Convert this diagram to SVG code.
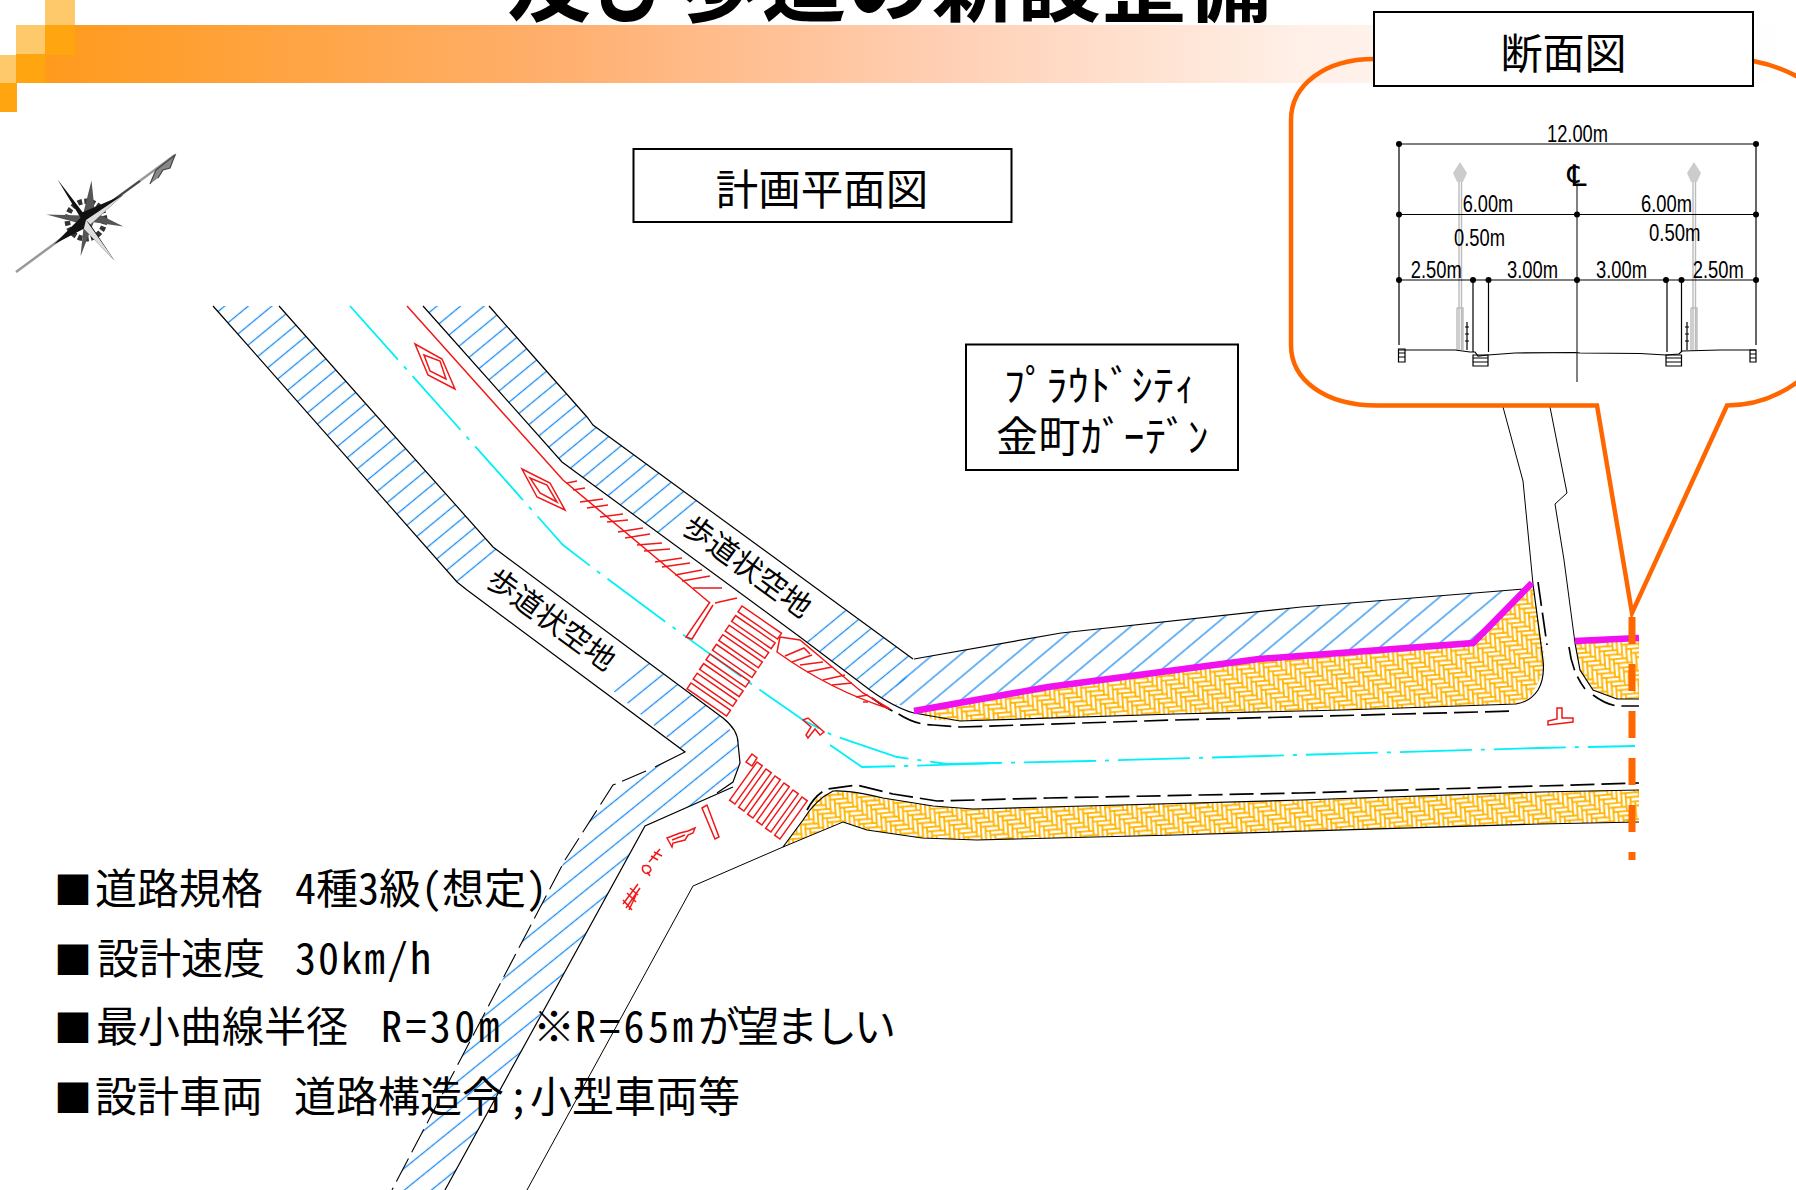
<svg xmlns="http://www.w3.org/2000/svg" xmlns:xlink="http://www.w3.org/1999/xlink" width="1796" height="1190" viewBox="0 0 1796 1190">
<style>
text{font-family:"Noto Sans CJK JP","Liberation Sans",sans-serif;fill:#000}
.hw{font-feature-settings:"hwid" 1}
.dim{font-family:"Liberation Sans",sans-serif;font-size:24px}
.box{fill:#fff;stroke:#000;stroke-width:2}
.bk{fill:none;stroke:#000;stroke-width:1.2}
.th{fill:none;stroke:#000;stroke-width:1}
.da{fill:none;stroke:#000;stroke-width:1.7;stroke-dasharray:24 7}
.da2{fill:none;stroke:#000;stroke-width:1.1;stroke-dasharray:26 7}
.red{fill:none;stroke:#f01818;stroke-width:1.5}
.cy{fill:none;stroke:#00f0f8;stroke-width:1.8;stroke-dasharray:72 9 4 9}
.mg{fill:none;stroke:#f010f0;stroke-width:6.5}
.or{fill:none;stroke:#ff6600;stroke-width:4.5}
.lamp{fill:none;stroke:#bbb;stroke-width:1.4}
.lab{font-size:30px}
.it{font-size:42px}
.hatch{fill:url(#hatch);stroke:none}
.hatch3{fill:url(#hatch3);stroke:none}
.brick{fill:url(#brick);stroke:none}
</style>
<defs>
<linearGradient id="band" gradientUnits="userSpaceOnUse" x1="45" y1="0" x2="1796" y2="0">
<stop offset="0" stop-color="#ff9a1c"/><stop offset="0.3" stop-color="#ffb070"/><stop offset="0.5" stop-color="#ffcdb0"/><stop offset="0.72" stop-color="#fff0e8"/><stop offset="1" stop-color="#fff"/>
</linearGradient>
<pattern id="hatch" patternUnits="userSpaceOnUse" width="15" height="15" patternTransform="translate(213 306) rotate(-39.5)">
<line x1="0" y1="7.5" x2="15" y2="7.5" stroke="#1e8cf0" stroke-width="1.3"/>
</pattern>
<pattern id="hatch3" patternUnits="userSpaceOnUse" width="17" height="17" patternTransform="translate(560 900) rotate(-39)">
<line x1="0" y1="8.5" x2="17" y2="8.5" stroke="#1e8cf0" stroke-width="1.3"/>
</pattern>
<pattern id="hatch2" patternUnits="userSpaceOnUse" width="17.6" height="17.6" patternTransform="translate(920 700) rotate(-40)">
<line x1="0" y1="8.8" x2="17.6" y2="8.8" stroke="#1e8cf0" stroke-width="1.3"/>
</pattern>
<pattern id="brick" patternUnits="userSpaceOnUse" width="24" height="24" patternTransform="rotate(-5) scale(1.12)">
<rect width="24" height="24" fill="#fff"/>
<g fill="#fff" stroke="#ffb400" stroke-width="1.5">
<rect x="0" y="0" width="12" height="4"/><rect x="4" y="4" width="12" height="4"/><rect x="8" y="8" width="12" height="4"/><rect x="12" y="12" width="12" height="4"/><rect x="16" y="16" width="12" height="4"/><rect x="-8" y="16" width="12" height="4"/><rect x="20" y="20" width="12" height="4"/><rect x="-4" y="20" width="12" height="4"/>
<rect x="12" y="-8" width="4" height="12"/><rect x="12" y="16" width="4" height="12"/><rect x="16" y="-4" width="4" height="12"/><rect x="16" y="20" width="4" height="12"/><rect x="20" y="0" width="4" height="12"/><rect x="0" y="4" width="4" height="12"/><rect x="4" y="8" width="4" height="12"/><rect x="8" y="12" width="4" height="12"/>
</g>
</pattern>
<rect id="cw1" width="48" height="7" class="red"/>
<rect id="cw2" x="0" y="-6.5" width="47" height="6.5" class="red"/>
</defs>

<g id="header">
<rect x="45" y="25" width="1751" height="58" fill="url(#band)"/>
<rect x="45" y="0" width="30" height="25" fill="#fdc96b"/>
<rect x="16" y="25" width="29" height="29" fill="#fdc96b"/>
<rect x="45" y="25" width="30" height="30" fill="#ffa510"/>
<rect x="0" y="55" width="16" height="28" fill="#fdc96b"/>
<rect x="16" y="54" width="29" height="29" fill="#ffa510"/>
<rect x="0" y="83" width="17" height="29" fill="#ffa510"/>
</g>
<text id="title" x="507" y="15" font-size="84" font-weight="700" letter-spacing="1">及び歩道の新設整備</text>

<g id="compass">
<path d="M16,272 L175,155" stroke="#999" stroke-width="2.500" fill="none"/>
<path d="M70,231 L140,181" stroke="#444" stroke-width="2" fill="none"/>
<path d="M150,184 L156,170 L175,155 L170,168 L163,170 L158,178" fill="#888" stroke="#444" stroke-width="1.200"/>
<g transform="translate(86 220) scale(1.1) translate(-86 -220)">
<circle cx="86" cy="220" r="17" fill="none" stroke="#333" stroke-width="5" stroke-dasharray="4 2"/>
<path d="M91,184 L94,213 L120,226 L93,222 L81,253 L84,224 L50,215 L83,216Z" fill="#555"/>
<path d="M60,183 L83,213 L120,197 L90,224 L112,257 L84,228 L57,242 L81,218Z" fill="#111"/>
<path d="M86,220 L120,197 L90,224Z M86,220 L112,257 L84,228Z" fill="#ddd"/>
</g>
</g>

<g id="hatched-areas">
<polygon class="hatch" points="213,306 279,306 493,547 507,557 468,589 457,582"/>
<polygon class="hatch" points="423,306 489,306 587,417 593,425 698,502 660,534 562,462"/>
<polygon class="hatch" points="838,605 913,659 896,706 880,697 800,637"/>
<polygon style="fill:url(#hatch2)" points="888,700 913,659 1061,633 1301,607 1524,589 1530,588 1473,643 1259,659 1048,687 914,711"/>
<polygon class="hatch3" points="647,662 723,718 738,743 738,765 733,787 645,826 445,1190 392,1190 565,860 613,785 686,753 612,690"/>
</g>

<g id="brick-areas">
<polygon class="brick" points="914,711 1048,687 1259,659 1473,643 1533,587 1545,660 1543,673 1530,698 1516,704 1343,710 1175,714 960,721 935,720"/>
<polygon class="brick" points="1575,641 1639,638 1639,699 1617,699 1593,690 1580,670"/>
<polygon class="brick" points="783,847 803,820 817,798 833,791 853,792 883,798 933,806 973,809 1048,807 1301,800 1540,792 1639,790 1639,822 1540,824 1175,835 977,840 922,838 867,830 843,822"/>
</g>

<g id="road-lines">
<path class="bk" d="M213,306 L457,582 L467,590 L685,752 L655,767"/>
<path class="bk" d="M279,306 L493,547 L723,718 C733,726 738,735 738,743 L740,763 L733,782 L717,793"/>
<path class="bk" d="M733,787 L645,826 L445,1190"/>
<path class="th" d="M843,822 L783,847 L693,886 L527,1190"/>
<path class="da2" d="M646,771 L613,785 L565,860 L392,1190"/>
<path class="bk" d="M423,306 L562,462 L800,637 L870,690 Q895,708 914,713 L960,721 L1175,714 L1343,710 L1516,704 Q1530,702 1538,690 Q1545,678 1543,660 L1533,584"/>
<path class="bk" d="M914,659 L1061,633 L1301,607 L1524,589"/>
<path class="bk" d="M489,306 L587,417 L593,425 L913,659"/>
<path class="th" d="M1503,407 L1523,481 L1533,584"/>
<path class="th" d="M1550,407 L1567,493 L1555,504 L1564,560 L1575,643"/>
<path class="bk" stroke-width="1.400" d="M1575,643 L1580,670 L1593,690 L1617,699 L1639,699"/>
<path class="bk" stroke-width="1.600" d="M783,847 L803,820 Q815,800 833,791 Q850,790 883,798 L933,806 L973,809 L1048,807 L1301,800 L1540,792 L1639,790"/>
<path class="bk" stroke-width="1.600" d="M843,822 L867,830 L922,838 L977,840 L1175,835 L1540,824 L1639,822"/>
<path class="da" d="M872,698 Q885,708 897,713 Q915,725 933,725 L960,727 L1175,720 L1515,711"/>
<path class="da" d="M807,810 Q815,795 827,789 L857,785 L893,794 L937,801 L1048,798 L1301,793 L1540,786 L1639,783"/>
<path class="da" d="M1538,582 L1547,645"/>
<path class="da" d="M1569,647 Q1572,672 1585,689 M1593,695 Q1605,704 1617,706 L1639,706"/>
</g>

<g id="center-line">
<path class="cy" d="M350,306 L458,427 L563,545 L593,568 L667,623 L750,683 L803,720 L832,735 L897,757 L947,764 L994,763 L1090,761 L1540,748 L1635,746"/>
<path class="cy" d="M830,745 L862,767 L905,766 L1000,763"/>
</g>

<g id="markings">
<path class="red" d="M407,306 L563,480 L710,603"/>
<polygon class="red" points="415,344 442,359 455,389 428,375"/>
<polygon class="red" points="424,355 440,361 446,379 430,371"/>
<polygon class="red" points="522,469 550,483 565,510 537,497"/>
<polygon class="red" points="530,478 547,485 557,502 540,493"/>
<path class="red" d="M567,483 L577,481 M573,490 L585,488 M580,502 L603,499 M587,508 L608,505 M600,517 L623,514 M607,522 L628,520 M618,532 L643,528 M625,538 L650,534 M637,545 L662,543 M644,551 L670,549 M655,562 L682,558 M662,567 L690,563 M675,575 L702,570 M682,581 L710,576 M693,588 L722,588 M715,603 L737,598"/>
<path class="red" d="M710,602 L686,637 L692,639 L713,605"/>
<path class="red" d="M780,637 L800,640 L863,693 L890,709 Q830,690 777,652 L780,637"/>
<path class="red" d="M785,656 L804,648 L810,654 M792,662 L812,655 M800,665 L823,662 M807,672 L832,667 M823,680 L845,675 M832,685 L852,683 M856,697 L868,695 M863,702 L868,702"/>
<g>
<use xlink:href="#cw1" href="#cw1" transform="translate(742 606) rotate(34.6)"/>
<use xlink:href="#cw1" href="#cw1" transform="translate(735.6 615.6) rotate(34.6)"/>
<use xlink:href="#cw1" href="#cw1" transform="translate(729.2 625.2) rotate(34.6)"/>
<use xlink:href="#cw1" href="#cw1" transform="translate(722.8 634.8) rotate(34.6)"/>
<use xlink:href="#cw1" href="#cw1" transform="translate(716.4 644.4) rotate(34.6)"/>
<use xlink:href="#cw1" href="#cw1" transform="translate(710 654) rotate(34.6)"/>
<use xlink:href="#cw1" href="#cw1" transform="translate(703.6 663.6) rotate(34.6)"/>
<use xlink:href="#cw1" href="#cw1" transform="translate(697.2 673.2) rotate(34.6)"/>
<use xlink:href="#cw1" href="#cw1" transform="translate(691 683) rotate(34.6)"/>
</g>
<g>
<polygon class="red" points="752,754 757,758 752,766 746,762"/>
<use xlink:href="#cw2" href="#cw2" transform="translate(757 762) rotate(125.6)"/>
<use xlink:href="#cw2" href="#cw2" transform="translate(766 769) rotate(125.6)"/>
<use xlink:href="#cw2" href="#cw2" transform="translate(775 776) rotate(125.6)"/>
<use xlink:href="#cw2" href="#cw2" transform="translate(784 783) rotate(125.6)"/>
<use xlink:href="#cw2" href="#cw2" transform="translate(793 790) rotate(125.6)"/>
<use xlink:href="#cw2" href="#cw2" transform="translate(802 797) rotate(125.6)"/>
</g>
<polygon class="red" points="803,720 808,718 824,732 820,735 815,729 808,738 806,735 811,727"/>
<polygon class="red" points="1548,721 1557,719 1557,708 1562,708 1562,718 1573,718 1573,722 1548,725"/>
<polygon class="red" points="702,808 707,805 719,837 715,839"/>
<path class="red" d="M667,838 L680,833 L688,831 L695,828 L693,833 L688,835 L685,840 L673,843 L672,847Z M672,840 L685,835"/>
<path class="red" stroke-width="2" d="M649,862 L660,849 M654,852 L662,856 M651,856 L658,860 M643,866 Q650,864 651,870 Q648,875 645,873 Q641,870 643,866Z M647,872 L650,876"/>
<path class="red" stroke-width="2" d="M623,904 L638,884 M626,908 L640,888 M629,910 L636,895 M623,900 L632,910 M627,893 L636,902 M630,888 L638,895"/>
</g>

<g id="boundary">
<path class="mg" d="M914,711 L1048,687 L1259,659 L1473,643 L1532,583"/>
<path class="mg" d="M1575,641 L1639,638"/>
</g>

<g id="labels">
<text class="lab" transform="translate(747 567) rotate(36)" text-anchor="middle" y="10">歩道状空地</text>
<text class="lab" transform="translate(551 620) rotate(36)" text-anchor="middle" y="10">歩道状空地</text>
</g>

<g id="box-plan">
<rect class="box" x="633.5" y="149" width="378" height="73"/>
<text x="822" y="205" font-size="42.5" text-anchor="middle">計画平面図</text>
</g>
<g id="box-name">
<rect class="box" x="966" y="344.500" width="272" height="125.500"/>
<text x="1004" y="401" font-size="42" class="hw" letter-spacing="0.4">ﾌﾟﾗｳﾄﾞｼﾃｨ</text>
<text x="996" y="452" font-size="42" class="hw" letter-spacing="0.5">金町ｶﾞｰﾃﾞﾝ</text>
</g>

<g id="callout">
<path class="or" d="M1374,59 C1325,59 1291,85 1291,120 L1291,345 C1291,380 1325,405.500 1377,405.500 L1597,405.500 L1632,613 L1727,405.500 C1755,405.500 1778,396 1796,383 C1822,365 1840,350 1840,330 L1840,130 C1840,100 1800,70 1753,61" fill="#fff"/>
<path class="or" style="stroke-width:7;stroke-dasharray:27 20" d="M1632,617 L1632,860"/>
<rect class="box" x="1374" y="12" width="379" height="74"/>
<text x="1563.5" y="69" font-size="42" text-anchor="middle">断面図</text>
</g>

<g id="section">
<g class="lamp">
<path d="M1459,180 V350 M1461.500,180 V350 M1457,308 H1463 V350 M1457,308 V350"/>
<path d="M1693,180 V350 M1695.500,180 V350 M1691,308 H1697 V350 M1691,308 V350"/>
</g>
<path d="M1460,162 L1467,173 L1463,182 H1457 L1453,173Z M1694,162 L1701,173 L1697,182 H1691 L1687,173Z" fill="#ccc"/>
<path class="bk" d="M1399,144 H1756 M1399,214.500 H1756 M1399,280 H1756 M1399,144 V345 M1756,144 V345 M1473,280 V352 M1488.500,280 V352 M1667,280 V352 M1681.500,280 V352"/>
<path class="th" stroke="#555" d="M1577,185 V382"/>
<g fill="#000">
<circle cx="1399" cy="144" r="3"/><circle cx="1756" cy="144" r="3"/>
<circle cx="1399" cy="214.500" r="3"/><circle cx="1577" cy="214.500" r="3"/><circle cx="1756" cy="214.500" r="3"/>
<circle cx="1399" cy="280" r="3"/><circle cx="1473" cy="280" r="3"/><circle cx="1488.500" cy="280" r="3"/><circle cx="1577" cy="280" r="3"/><circle cx="1666" cy="280" r="3"/><circle cx="1681.500" cy="280" r="3"/><circle cx="1756" cy="280" r="3"/>
</g>
<path class="bk" stroke-width="1.600" d="M1399,350 L1455,350 L1470,352 L1475,352 L1478,356 L1488,355 L1515,353 L1575,352.500 L1580,353 L1640,353.500 L1666,355 L1679,354 L1682,351 L1720,350 L1756,350"/>
<path class="bk" d="M1398.500,349 H1405 V362 H1398.500Z M1398.500,353 H1405 M1398.500,357 H1405 M1750,350 H1756 V362 H1750Z M1750,354 H1756 M1750,358 H1756 M1473,355 H1488 V366 H1473Z M1473,358 H1488 M1473,362 H1488 M1666,355 H1681.500 V366 H1666Z M1666,358 H1681.500 M1666,362 H1681.500"/>
<path class="bk" d="M1467,322 V350 M1465,327 H1469 M1465,334 H1469 M1465,341 H1469 M1687,322 V350 M1685,327 H1689 M1685,334 H1689 M1685,341 H1689"/>
<text class="dim" x="1547" y="142" textLength="61" lengthAdjust="spacingAndGlyphs">12.00m</text>
<text x="1577" y="186" font-size="30" font-style="italic" text-anchor="middle" style="font-family:'DejaVu Sans','Noto Sans CJK JP',sans-serif">℄</text>
<text class="dim" x="1462.700" y="211.500" textLength="50.500" lengthAdjust="spacingAndGlyphs">6.00m</text>
<text class="dim" x="1641" y="211.500" textLength="51" lengthAdjust="spacingAndGlyphs">6.00m</text>
<text class="dim" x="1454" y="245.500" textLength="51" lengthAdjust="spacingAndGlyphs">0.50m</text>
<text class="dim" x="1649" y="241" textLength="51.500" lengthAdjust="spacingAndGlyphs">0.50m</text>
<text class="dim" x="1410.700" y="277.500" textLength="51" lengthAdjust="spacingAndGlyphs">2.50m</text>
<text class="dim" x="1507" y="277.500" textLength="51" lengthAdjust="spacingAndGlyphs">3.00m</text>
<text class="dim" x="1596" y="277.500" textLength="51" lengthAdjust="spacingAndGlyphs">3.00m</text>
<text class="dim" x="1692.700" y="277.500" textLength="51" lengthAdjust="spacingAndGlyphs">2.50m</text>
</g>

<g id="specs" class="it">
<text y="904"><tspan x="54" font-size="38">■</tspan><tspan x="95">道路規格 </tspan><tspan x="295" class="hw">4種3級(想定)</tspan></text>
<text y="974"><tspan x="54" font-size="38">■</tspan><tspan x="97">設計速度 </tspan><tspan x="295" class="hw" letter-spacing="2">30km/h</tspan></text>
<text y="1042"><tspan x="54" font-size="38">■</tspan><tspan x="96">最小曲線半径 </tspan><tspan x="381" class="hw" letter-spacing="3.4">R=30m </tspan><tspan x="533">※</tspan><tspan class="hw" letter-spacing="3.3">R=65m</tspan><tspan x="698" letter-spacing="-3">が望ましい</tspan></text>
<text y="1112"><tspan x="54" font-size="38">■</tspan><tspan x="95">設計車両 </tspan><tspan x="294">道路構造令</tspan><tspan x="508" class="hw">;</tspan><tspan x="530">小型車両等</tspan></text>
</g>
</svg>
